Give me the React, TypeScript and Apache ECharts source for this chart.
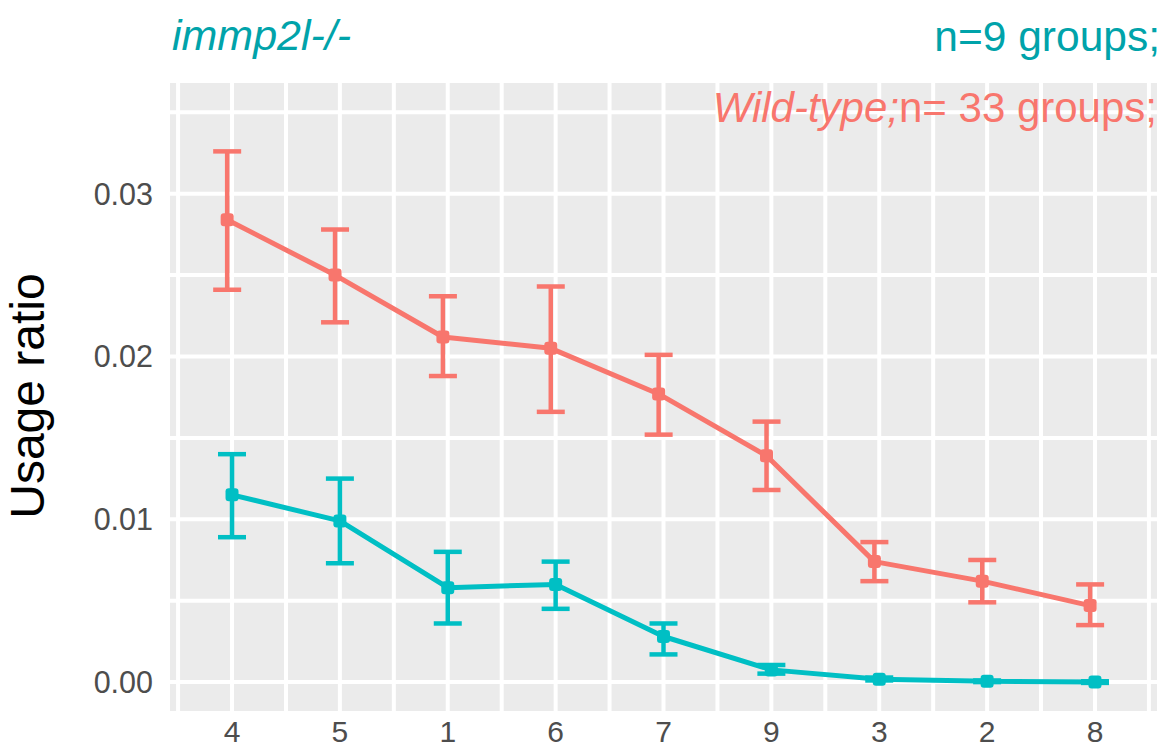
import React, { useEffect, useRef } from "react";
import * as echarts from "echarts";

const categories = ["4", "5", "1", "6", "7", "9", "3", "2", "8"];
const yTickValues = [0, 0.01, 0.02, 0.03];

// Wild-type (red)
const wtMean = [0.0284, 0.025, 0.0212, 0.0205, 0.0177, 0.0139, 0.0074, 0.0062, 0.0047];
const wtLow = [0.0241, 0.0221, 0.0188, 0.0166, 0.0152, 0.0118, 0.0062, 0.0049, 0.0035];
const wtHigh = [0.0326, 0.0278, 0.0237, 0.0243, 0.0201, 0.016, 0.0086, 0.0075, 0.006];

// immp2l-/- (teal)
const mutMean = [0.0115, 0.0099, 0.0058, 0.006, 0.0028, 0.00075, 0.00018, 0.00005, 0.0];
const mutLow = [0.0089, 0.0073, 0.0036, 0.0045, 0.0017, 0.00052, 0.0001, 0.0, -0.00005];
const mutHigh = [0.014, 0.0125, 0.008, 0.0074, 0.0036, 0.00105, 0.00028, 0.0001, 0.00005];

const RED = "#F8766D";
const TEAL = "#00BFC4";
const FONT = "'Liberation Sans', Arial, sans-serif";

export default function App() {
  const ref = useRef<HTMLDivElement>(null);

  useEffect(() => {
    if (!ref.current) return;
    const chart = echarts.init(ref.current, null, { renderer: "svg" });

    const vLines: number[][] = [];
    for (let v = -0.5; v <= categories.length - 0.5 + 1e-9; v += 0.5) vLines.push([v, 0]);
    const hLines: number[][] = [];
    for (let k = 0; k <= 7; k++) hLines.push([0, k * 0.005]);

    const errRender = (color: string) => (params: any, api: any) => {
      const x = api.value(0);
      const lo = api.value(1);
      const hi = api.value(2);
      const pHi = api.coord([x, hi]);
      const pLo = api.coord([x, lo]);
      const half = 14;
      const style = { stroke: color, lineWidth: 4.5, fill: "none" };
      return {
        type: "group",
        children: [
          { type: "line", shape: { x1: pHi[0], y1: pHi[1], x2: pLo[0], y2: pLo[1] }, style },
          { type: "line", shape: { x1: pHi[0] - half, y1: pHi[1], x2: pHi[0] + half, y2: pHi[1] }, style },
          { type: "line", shape: { x1: pLo[0] - half, y1: pLo[1], x2: pLo[0] + half, y2: pLo[1] }, style },
        ],
      };
    };

    const wtOffset = -0.045;

    chart.setOption({
      animation: false,
      grid: {
        left: 170,
        right: 10,
        top: 83,
        bottom: 33,
        show: true,
        backgroundColor: "#EBEBEB",
        borderWidth: 0,
      },
      xAxis: {
        type: "value",
        min: -0.575,
        max: categories.length - 1 + 0.575,
        axisLine: { show: false },
        splitLine: { show: false },
        axisTick: {
          show: true,
          customValues: categories.map((_, i) => i),
          length: 7,
          lineStyle: { color: "#333333", width: 2 },
        },
        axisLabel: {
          customValues: categories.map((_, i) => i),
          formatter: (v: number) => categories[Math.round(v)] ?? "",
          color: "#4D4D4D",
          fontSize: 30,
          fontFamily: FONT,
          margin: 5,
        },
      },
      yAxis: {
        type: "value",
        min: -0.001776,
        max: 0.0368,
        axisLine: { show: false },
        splitLine: { show: false },
        axisTick: {
          show: true,
          customValues: yTickValues,
          length: 7,
          lineStyle: { color: "#333333", width: 2 },
        },
        axisLabel: {
          customValues: yTickValues,
          formatter: (v: number) => v.toFixed(2),
          color: "#4D4D4D",
          fontSize: 30.5,
          fontFamily: FONT,
          margin: 17,
        },
      },
      graphic: [
        {
          type: "text",
          z: 100,
          x: 172,
          y: 56,
          style: {
            text: "immp2l-/-",
            font: `italic 43px ${FONT}`,
            fill: "#00A3AA",
            verticalAlign: "bottom",
          },
        },
        {
          type: "text",
          z: 100,
          x: 1160,
          y: 58,
          style: {
            text: "n=9 groups;",
            font: `42.5px ${FONT}`,
            fill: "#00A3AA",
            align: "right",
            verticalAlign: "bottom",
          },
        },
        {
          type: "text",
          z: 100,
          x: 1157,
          y: 128,
          style: {
            text: "{i|Wild-type;}{n|n= 33 groups;}",
            align: "right",
            verticalAlign: "bottom",
            rich: {
              i: { font: `italic 42px ${FONT}`, fill: RED },
              n: { font: `42px ${FONT}`, fill: RED },
            },
          },
        },
        {
          type: "text",
          z: 100,
          x: 27,
          y: 396,
          rotation: Math.PI / 2,
          style: {
            text: "Usage ratio",
            font: `48px ${FONT}`,
            fill: "#000000",
            align: "center",
            verticalAlign: "middle",
          },
        },
      ],
      series: [
        {
          type: "custom",
          silent: true,
          z: 1,
          data: vLines,
          renderItem: (params: any, api: any) => {
            const cs = params.coordSys;
            const x = api.coord([api.value(0), 0])[0];
            return {
              type: "line",
              shape: { x1: x, y1: cs.y, x2: x, y2: cs.y + cs.height },
              style: { stroke: "#FFFFFF", lineWidth: 4 },
            };
          },
        },
        {
          type: "custom",
          silent: true,
          z: 1,
          data: hLines,
          renderItem: (params: any, api: any) => {
            const cs = params.coordSys;
            const y = api.coord([0, api.value(1)])[1];
            return {
              type: "line",
              shape: { x1: cs.x, y1: y, x2: cs.x + cs.width, y2: y },
              style: { stroke: "#FFFFFF", lineWidth: 4 },
            };
          },
        },
        {
          type: "custom",
          name: "Wild-type err",
          z: 3,
          data: wtMean.map((_, i) => [i + wtOffset, wtLow[i], wtHigh[i]]),
          encode: { x: 0, y: [1, 2] },
          renderItem: errRender(RED),
        },
        {
          type: "custom",
          name: "immp2l err",
          z: 3,
          data: mutMean.map((_, i) => [i, mutLow[i], mutHigh[i]]),
          encode: { x: 0, y: [1, 2] },
          renderItem: errRender(TEAL),
        },
        {
          type: "line",
          name: "Wild-type",
          z: 4,
          data: wtMean.map((v, i) => [i + wtOffset, v]),
          symbol: "roundRect",
          symbolSize: 13,
          itemStyle: { color: RED },
          lineStyle: { color: RED, width: 5 },
        },
        {
          type: "line",
          name: "immp2l-/-",
          z: 4,
          data: mutMean.map((v, i) => [i, v]),
          symbol: "roundRect",
          symbolSize: 13,
          itemStyle: { color: TEAL },
          lineStyle: { color: TEAL, width: 5 },
        },
      ],
    });

    return () => chart.dispose();
  }, []);

  return (
    <div
      ref={ref}
      style={{ position: "fixed", left: 0, top: 0, width: 1167, height: 746, background: "#FFFFFF" }}
    />
  );
}
